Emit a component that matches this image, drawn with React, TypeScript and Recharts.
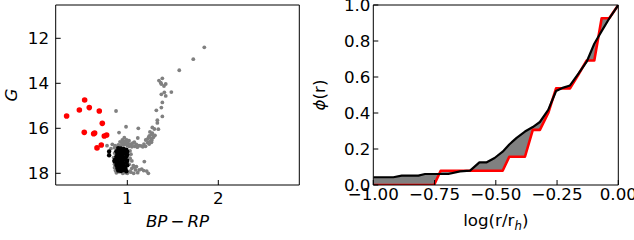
import React from 'react';
import { ScatterChart, Scatter, XAxis, YAxis, ComposedChart, Area, Line, Label } from 'recharts';

const FONT = 'DejaVu Sans';
const FS = 16.7;

// ---- Left panel: colour-magnitude diagram (BP-RP, G) ----
const grayStars: [number, number][] = [
  [1.846, 12.4], [1.725, 12.93], [1.571, 13.42], [1.385, 13.78], [1.348, 13.88], [1.367, 13.97],
  [1.422, 14.03], [1.403, 14.12], [1.374, 14.03], [1.484, 14.39], [1.407, 14.4], [1.374, 14.49],
  [1.422, 14.56], [1.385, 14.85], [1.374, 15.08], [1.319, 15.2], [1.385, 15.47], [1.33, 15.64],
  [1.33, 15.76], [1.275, 15.96], [1.297, 16.03], [1.341, 16.04], [1.249, 16.16], [1.275, 16.22],
  [1.304, 16.31], [1.242, 16.34], [1.286, 16.4], [1.268, 16.27], [1.235, 16.39], [1.26, 16.45],
  [1.22, 16.48], [1.27, 16.52], [1.202, 16.52], [1.25, 16.58], [1.224, 16.64], [1.265, 16.62],
  [1.183, 16.7], [1.24, 16.7], [1.128, 16.77], [1.15, 16.78], [1.099, 16.71], [1.077, 16.61],
  [1.06, 16.66], [1.04, 16.7], [1.019, 16.55], [0.993, 16.52], [0.967, 16.42], [0.945, 16.52],
  [0.92, 16.6], [0.95, 16.62], [0.97, 16.58], [0.99, 16.64], [1.01, 16.68], [0.94, 16.7],
  [0.96, 16.74], [0.98, 16.7], [1.0, 16.76], [0.901, 16.74], [0.865, 16.77], [0.835, 16.71],
  [0.777, 16.77], [0.88, 16.82], [0.92, 16.8], [0.86, 16.86], [0.82, 16.9], [1.02, 16.8],
  [1.05, 16.82], [1.08, 16.8], [1.11, 16.84], [1.17, 16.82], [1.2, 16.8], [0.876, 15.23],
  [0.986, 15.93], [1.121, 16.0], [0.909, 16.19], [1.115, 16.43], [1.03, 17.0], [1.04, 17.15],
  [1.03, 17.33], [1.05, 17.45], [1.066, 17.66], [1.08, 17.72], [1.1, 17.7], [1.187, 17.48],
  [1.158, 17.81], [1.213, 17.9], [1.231, 18.0], [1.114, 17.97], [1.09, 17.85], [1.05, 17.78],
  [1.03, 17.9], [1.0, 18.0], [0.98, 17.97], [0.95, 18.0], [0.909, 17.93], [0.88, 17.98],
  [0.87, 17.88], [0.86, 17.75], [0.86, 17.6], [0.85, 17.3], [0.86, 17.1], [1.02, 17.6],
  [1.04, 17.95], [1.13, 17.85], [1.18, 17.88], [1.07, 18.0],
];

const blackStars: [number, number][] = [
  [0.9, 16.88], [0.93, 16.9], [0.96, 16.92], [0.99, 16.95], [0.88, 17.02], [0.91, 17.0],
  [0.94, 17.03], [0.97, 17.05], [1.0, 17.04], [0.89, 17.14], [0.92, 17.12], [0.95, 17.16],
  [0.98, 17.13], [1.0, 17.18], [0.88, 17.25], [0.9, 17.27], [0.93, 17.24], [0.96, 17.29],
  [0.99, 17.26], [0.87, 17.38], [0.89, 17.4], [0.92, 17.36], [0.95, 17.42], [0.98, 17.39],
  [1.0, 17.44], [0.88, 17.5], [0.9, 17.53], [0.93, 17.49], [0.96, 17.55], [0.99, 17.52],
  [0.88, 17.63], [0.91, 17.66], [0.94, 17.61], [0.97, 17.68], [1.0, 17.64], [0.89, 17.76],
  [0.92, 17.79], [0.95, 17.74], [0.98, 17.8], [0.9, 17.88], [0.93, 17.9], [0.96, 17.86],
  [0.99, 17.91], [0.8, 17.03], [0.8, 17.2], [0.86, 17.42], [0.86, 17.47],
];

const redStars: [number, number][] = [
  [0.333, 15.45], [0.473, 15.19], [0.531, 14.74], [0.582, 15.08], [0.692, 15.23], [0.725, 15.78],
  [0.527, 16.18], [0.63, 16.24], [0.641, 16.21], [0.747, 16.34], [0.773, 16.3], [0.714, 16.74],
  [0.667, 16.87],
];

const cmdXTicks = [1, 2];
const cmdYTicks = [12, 14, 16, 18];

// ---- Right panel: cumulative radial distributions ----
const logR = [
  -1.0, -0.918, -0.884, -0.816, -0.789, -0.752, -0.725, -0.694, -0.646, -0.605, -0.567, -0.537,
  -0.505, -0.472, -0.445, -0.415, -0.381, -0.349, -0.32, -0.286, -0.254, -0.224, -0.197, -0.162,
  -0.129, -0.098, -0.068, -0.037, 0.0,
];
const phiRed = [
  0.0, 0.0, 0.0, 0.0, 0.0, 0.0, 0.079, 0.079, 0.079, 0.079, 0.079, 0.079,
  0.079, 0.079, 0.157, 0.157, 0.157, 0.306, 0.306, 0.4, 0.537, 0.537, 0.537, 0.615,
  0.692, 0.692, 0.926, 0.926, 1.0,
];
const phiBlack = [
  0.043, 0.043, 0.052, 0.052, 0.061, 0.061, 0.061, 0.061, 0.076, 0.08, 0.126, 0.126,
  0.15, 0.185, 0.225, 0.262, 0.297, 0.322, 0.35, 0.417, 0.522, 0.541, 0.553, 0.62,
  0.685, 0.785, 0.855, 0.925, 1.0,
];
const phiXTicks = [-1, -0.75, -0.5, -0.25, 0];
const phiYTicks = [0, 0.2, 0.4, 0.6, 0.8, 1.0];

const toPts = (a: [number, number][]) => a.map(([x, y]) => ({ x, y }));
const phiRows = logR.map((x, i) => ({
  x,
  red: phiRed[i],
  black: phiBlack[i],
  band: [phiRed[i], phiBlack[i]],
}));

const dot = (r: number, fill: string) => (p: any) => (
  <circle cx={p.cx} cy={p.cy} r={r} fill={fill} />
);
const noDot = () => <g />;

const tickStyle = { fontSize: FS, fill: '#000', fontFamily: FONT };
const lineStyle = { stroke: '#000', strokeWidth: 1 };
const mfmt = (d: number) => (v: number) => {
  const s = Math.abs(v).toFixed(d);
  return v < 0 ? '\u2212' + s : s;
};

export default function App() {
  return (
    <div style={{ position: 'absolute', left: 0, top: 0, width: 634, height: 240, background: '#fff', fontFamily: FONT }}>
      <div style={{ position: 'absolute', left: 0, top: 0 }}>
        <ScatterChart width={310} height={240} margin={{ top: 4, right: 9.7, bottom: 0, left: 0 }}>
          <XAxis
            xAxisId="b" type="number" dataKey="x" domain={[0.213, 2.89]} ticks={cmdXTicks} allowDataOverflow
            height={55} tickSize={-5} tickMargin={12} tick={tickStyle} axisLine={lineStyle} tickLine={lineStyle}
            tickFormatter={(v: number) => String(v)}
          >
            <Label content={() => (
              <text x={177.5} y={227} textAnchor="middle" fontSize={FS} fontFamily={FONT} fill="#000">
                <tspan fontStyle="italic">BP</tspan>
                <tspan dx={3}>{'\u2212'}</tspan>
                <tspan dx={3} fontStyle="italic">RP</tspan>
              </text>
            )} />
          </XAxis>
          <XAxis
            xAxisId="t" orientation="top" type="number" dataKey="x" domain={[0.213, 2.89]} ticks={cmdXTicks} allowDataOverflow
            height={1} tickSize={-5} tick={false} axisLine={lineStyle} tickLine={lineStyle}
          />
          <YAxis
            yAxisId="l" type="number" dataKey="y" domain={[10.52, 18.52]} reversed ticks={cmdYTicks} allowDataOverflow
            width={55.7} tickSize={-5} tickMargin={11.7} tick={tickStyle} axisLine={lineStyle} tickLine={lineStyle}
          >
            <Label content={() => (
              <text x={16.7} y={95} transform="rotate(-90, 16.7, 95)" textAnchor="middle" fontSize={FS} fontFamily={FONT} fill="#000" fontStyle="italic">G</text>
            )} />
          </YAxis>
          <YAxis
            yAxisId="r" orientation="right" type="number" dataKey="y" domain={[10.52, 18.52]} reversed ticks={cmdYTicks} allowDataOverflow
            width={1} tickSize={-5} tick={false} axisLine={lineStyle} tickLine={lineStyle}
          />
          <Scatter xAxisId="t" yAxisId="r" data={toPts(redStars)} shape={noDot} isAnimationActive={false} />
          <Scatter xAxisId="b" yAxisId="l" data={toPts(grayStars)} shape={dot(1.9, '#808080')} isAnimationActive={false} />
          <Scatter xAxisId="b" yAxisId="l" data={toPts(blackStars)} shape={dot(2.2, '#000000')} isAnimationActive={false} />
          <Scatter xAxisId="b" yAxisId="l" data={toPts(redStars)} shape={dot(2.8, '#ff0000')} isAnimationActive={false} />
        </ScatterChart>
      </div>
      <div style={{ position: 'absolute', left: 310, top: 0 }}>
        <ComposedChart width={324} height={240} data={phiRows} margin={{ top: 4, right: 14.7, bottom: 0, left: 0 }}>
          <XAxis
            xAxisId="b" type="number" dataKey="x" domain={[-1, 0]} ticks={phiXTicks} allowDataOverflow
            height={55} tickSize={-5} tickMargin={8.1} tick={tickStyle} axisLine={lineStyle} tickLine={lineStyle}
            tickFormatter={mfmt(2)} interval={0}
          >
            <Label content={() => (
              <text x={185.8} y={226} textAnchor="middle" fontSize={FS} fontFamily={FONT} fill="#000">
                <tspan>log(r/r</tspan>
                <tspan fontStyle="italic" fontSize={11.7} dy={3.5}>h</tspan>
                <tspan dy={-3.5}>)</tspan>
              </text>
            )} />
          </XAxis>
          <XAxis
            xAxisId="t" orientation="top" type="number" dataKey="x" domain={[-1, 0]} ticks={phiXTicks} allowDataOverflow
            height={1} tickSize={-5} tick={false} axisLine={lineStyle} tickLine={lineStyle} interval={0}
          />
          <YAxis
            yAxisId="l" type="number" domain={[0, 1]} ticks={phiYTicks} allowDataOverflow interval={0}
            width={63.3} tickSize={-5} tickMargin={7.8} tick={tickStyle} axisLine={lineStyle} tickLine={lineStyle}
            tickFormatter={mfmt(1)}
          >
            <Label content={() => (
              <text x={14.5} y={95} transform="rotate(-90, 14.5, 95)" textAnchor="middle" fontSize={FS} fontFamily={FONT} fill="#000">
                <tspan fontStyle="italic">{'\u03d5'}</tspan>
                <tspan>(r)</tspan>
              </text>
            )} />
          </YAxis>
          <YAxis
            yAxisId="r" orientation="right" type="number" domain={[0, 1]} ticks={phiYTicks} allowDataOverflow interval={0}
            width={1} tickSize={-5} tick={false} axisLine={lineStyle} tickLine={lineStyle}
          />
          <Line xAxisId="t" yAxisId="r" type="linear" dataKey="black" stroke="none" dot={false} activeDot={false} isAnimationActive={false} />
          <Area xAxisId="b" yAxisId="l" type="linear" dataKey="band" fill="#808080" fillOpacity={1} stroke="none" isAnimationActive={false} dot={false} activeDot={false} />
          <Line xAxisId="b" yAxisId="l" type="linear" dataKey="red" stroke="#ff0000" strokeWidth={2.6} strokeLinejoin="round" dot={false} activeDot={false} isAnimationActive={false} />
          <Line xAxisId="b" yAxisId="l" type="linear" dataKey="black" stroke="#000000" strokeWidth={2.2} strokeLinejoin="round" dot={false} activeDot={false} isAnimationActive={false} />
        </ComposedChart>
      </div>
    </div>
  );
}
